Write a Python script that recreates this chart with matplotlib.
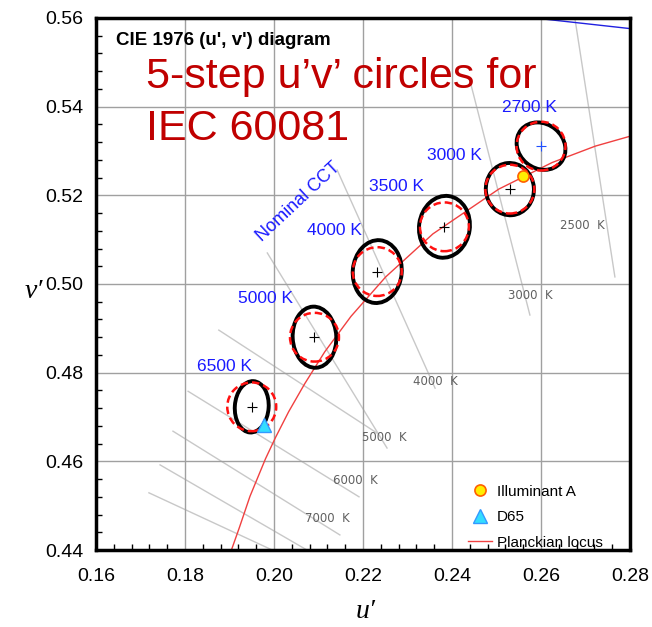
import matplotlib
matplotlib.use("Agg")
import matplotlib.pyplot as plt
from matplotlib.patches import Ellipse, Circle
from matplotlib.ticker import MultipleLocator

# nominal CCT points (IEC 60081)
cct_names = ["6500 K", "5000 K", "4000 K", "3500 K", "3000 K", "2700 K"]
cct_u = [0.1950, 0.2091, 0.2232, 0.2383, 0.2530, 0.2600]
cct_v = [0.4723, 0.4880, 0.5028, 0.5129, 0.5214, 0.5311]
# 5-step ellipses: semi-major, semi-minor, angle of major axis (deg)
ell_a = [0.0058, 0.0069, 0.0071, 0.0070, 0.0059, 0.0058]
ell_b = [0.0038, 0.0049, 0.0055, 0.0057, 0.0054, 0.0050]
ell_ang = [86, 93, 85, 82, 95, 140]
circle_r = 0.0055

# label positions of the blue CCT names
name_u = [0.1888, 0.1980, 0.2135, 0.2276, 0.2405, 0.2575]
name_v = [0.4813, 0.4968, 0.5120, 0.5221, 0.5289, 0.5397]

# Planckian locus
pl_u = [0.1877, 0.1904, 0.1922, 0.1946, 0.1981, 0.2004, 0.2033, 0.2069,
        0.2114, 0.2173, 0.2251, 0.2357, 0.2505, 0.2625, 0.2722, 0.2876]
pl_v = [0.4320, 0.4399, 0.4450, 0.4521, 0.4606, 0.4655, 0.4712, 0.4775,
        0.4847, 0.4927, 0.5016, 0.5113, 0.5214, 0.5274, 0.5311, 0.5355]

# spectral locus piece (top right)
sl_u = [0.2576, 0.2810]
sl_v = [0.5601, 0.5575]

# iso-temperature lines (start u, start v, end u, end v)
iso_u0 = [0.2676, 0.2440, 0.2142, 0.1985, 0.1876, 0.1807, 0.1773, 0.1744, 0.1719]
iso_v0 = [0.5600, 0.5460, 0.5257, 0.5070, 0.4896, 0.4758, 0.4668, 0.4592, 0.4529]
iso_u1 = [0.2766, 0.2575, 0.2362, 0.2254, 0.2231, 0.2191, 0.2148, 0.2074, 0.1996]
iso_v1 = [0.5016, 0.4930, 0.4765, 0.4630, 0.4664, 0.4520, 0.4434, 0.4400, 0.4400]
iso_lab = ["2500  K", "3000  K", "4000  K", "5000  K", "", "6000  K", "7000  K", "", ""]
iso_lab_u = [0.2694, 0.2575, 0.2362, 0.2249, 0, 0.2182, 0.2121, 0, 0]
iso_lab_v = [0.5133, 0.4973, 0.4781, 0.4653, 0, 0.4556, 0.4470, 0, 0]

illA = (0.2560, 0.5243)
d65 = (0.1978, 0.4683)

fig = plt.figure(figsize=(6.52, 6.27), dpi=100)
ax = fig.add_axes([0.1472, 0.1228, 0.8191, 0.8485])
ax.set_xlim(0.16, 0.28)
ax.set_ylim(0.44, 0.56)

ax.xaxis.set_major_locator(MultipleLocator(0.02))
ax.yaxis.set_major_locator(MultipleLocator(0.02))
ax.xaxis.set_minor_locator(MultipleLocator(0.004))
ax.yaxis.set_minor_locator(MultipleLocator(0.004))
ax.grid(True, which="major", color="#a0a0a0", lw=1.0, zorder=0)
ax.tick_params(which="both", direction="in", top=False, right=False)
ax.tick_params(which="major", length=0, labelsize=14)
ax.tick_params(axis="x", which="major", pad=13)
ax.tick_params(axis="y", which="major", pad=9)
ax.tick_params(which="minor", length=4, width=1, color="black")
for lab in ax.get_xticklabels() + ax.get_yticklabels():
    lab.set_family("Liberation Sans")
for s in ax.spines.values():
    s.set_linewidth(2.5)
    s.set_zorder(10)

# iso-temperature lines
for i in range(len(iso_u0)):
    ax.plot([iso_u0[i], iso_u1[i]], [iso_v0[i], iso_v1[i]], color="#c8c8c8", lw=1.0, zorder=1)
    if iso_lab[i]:
        ax.text(iso_lab_u[i], iso_lab_v[i], iso_lab[i], color="#606060", fontsize=8.5,
                family="DejaVu Sans", ha="center", va="center", zorder=2)

ax.plot(sl_u, sl_v, color="#2020e0", lw=1.0, zorder=2)
ax.plot(pl_u, pl_v, color="#f04040", lw=1.0, zorder=3, label="Planckian locus")

for i in range(len(cct_u)):
    ax.add_patch(Ellipse((cct_u[i], cct_v[i]), 2 * ell_a[i], 2 * ell_b[i], angle=ell_ang[i],
                         fill=False, ec="black", lw=2.8, zorder=4))
    ax.add_patch(Circle((cct_u[i], cct_v[i]), circle_r, fill=False, ec="#ff1010",
                        lw=1.8, ls=(0, (3, 1.6)), zorder=5))
    ax.plot(cct_u[i], cct_v[i], marker="+", ms=7, mew=0.8,
            color="#2050ff" if i == 5 else "black", zorder=6)
    ax.text(name_u[i], name_v[i], cct_names[i], color="#1a1aff", fontsize=12.5,
            family="Liberation Sans", ha="center", va="center", zorder=6)

ax.plot(*illA, ls="none", marker="o", ms=8, mfc="#ffee00", mec="#ff6000", mew=1.2,
        zorder=7, label="Illuminant A")
ax.plot(*d65, ls="none", marker="^", ms=10, mfc="#33ddff", mec="#3399ff", mew=1.0,
        zorder=7, label="D65")

h, l = ax.get_legend_handles_labels()
order = [1, 2, 0]
ax.legend([h[k] for k in order], [l[k] for k in order], loc="lower right",
          bbox_to_anchor=(0.975, -0.025), frameon=False, handlelength=1.6,
          handletextpad=0.3, labelspacing=0.75, prop={"family": "Liberation Sans", "size": 11})

ax.text(0.1645, 0.5550, "CIE 1976 (u', v') diagram", fontsize=13.5, fontweight="bold",
        family="Liberation Sans", ha="left", va="center", zorder=8)
ax.text(0.1712, 0.5442, "5-step u\u2019v\u2019 circles for", fontsize=31,
        color="#c00000", family="Liberation Sans", ha="left", va="baseline", zorder=8)
ax.text(0.1712, 0.5325, "IEC 60081", fontsize=31,
        color="#c00000", family="Liberation Sans", ha="left", va="baseline", zorder=8)
ax.text(0.2054, 0.5185, "Nominal CCT", color="#1a1aff", fontsize=13, rotation=43,
        family="Liberation Sans", ha="center", va="center", zorder=8)

fig.text(0.560, 0.025, "u\u2032", fontsize=20, style="italic", family="Liberation Serif",
         ha="center", va="center")
fig.text(0.052, 0.535, "v\u2032", fontsize=20, style="italic", family="Liberation Serif",
         ha="center", va="center")

fig.savefig("out.png", dpi=100)
